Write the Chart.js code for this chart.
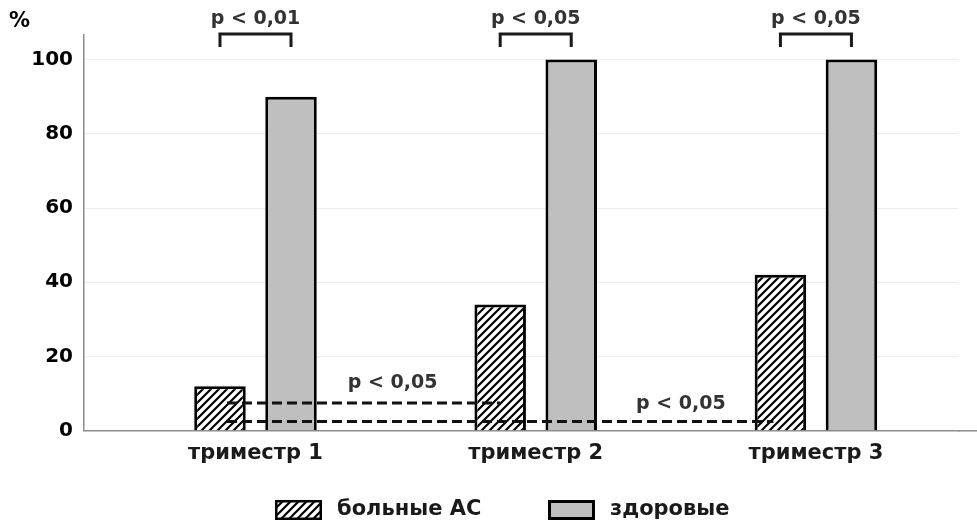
<!DOCTYPE html>
<html>
<head>
<meta charset="utf-8">
<script src="https://cdn.jsdelivr.net/npm/chart.js@4.4.1/dist/chart.umd.min.js"></script>
<style>
  html, body { margin: 0; padding: 0; background: #fff; }
  #wrap { width: 977px; height: 523px; }
</style>
</head>
<body>
<div id="wrap"><canvas id="chart"></canvas></div>
<script>
const categories = ["триместр 1", "триместр 2", "триместр 3"];
const seriesNames = ["больные АС", "здоровые"];
const sick = [12, 34, 42];
const healthy = [90, 100, 100];
const yTicks = [0, 20, 40, 60, 80, 100];
const pairLabels = ["p < 0,01", "p < 0,05", "p < 0,05"];
const trendLabels = ["p < 0,05", "p < 0,05"];
const trendLevels = [7.5, 2.5];
const trendTo = [1, 2];

const FONT = "'DejaVu Sans', Verdana, sans-serif";
const ctx = document.getElementById("chart").getContext("2d");

// hatch fill for the first series
function makeHatch(c) {
  const s = 8;
  const tile = document.createElement("canvas");
  tile.width = s;
  tile.height = s;
  const g = tile.getContext("2d");
  g.fillStyle = "#fff";
  g.fillRect(0, 0, s, s);
  g.strokeStyle = "#000";
  g.lineWidth = 2.2;
  g.beginPath();
  g.moveTo(-1, s + 1); g.lineTo(s + 1, -1);
  g.moveTo(-1, 1); g.lineTo(1, -1);
  g.moveTo(s - 1, s + 1); g.lineTo(s + 1, s - 1);
  g.stroke();
  return c.createPattern(tile, "repeat");
}
const hatch = makeHatch(ctx);
const grey = "#bfbfbf";

const annotations = {
  id: "annotations",
  afterDatasetsDraw(chart) {
    const { ctx, chartArea } = chart;
    const m0 = chart.getDatasetMeta(0).data;
    const m1 = chart.getDatasetMeta(1).data;
    const y = chart.scales.y;
    ctx.save();

    // brackets over each pair
    ctx.strokeStyle = "#1a1a1a";
    ctx.lineWidth = 3;
    ctx.fillStyle = "#333";
    ctx.font = "bold 19px " + FONT;
    ctx.textAlign = "center";
    ctx.textBaseline = "middle";
    pairLabels.forEach((txt, i) => {
      const x0 = m0[i].x, x1 = m1[i].x;
      const top = chartArea.top - 1;
      ctx.beginPath();
      ctx.moveTo(x0, top + 13);
      ctx.lineTo(x0, top);
      ctx.lineTo(x1, top);
      ctx.lineTo(x1, top + 13);
      ctx.stroke();
      ctx.fillText(txt, (x0 + x1) / 2, top - 15);
    });

    // dashed comparison lines
    ctx.setLineDash([10, 5]);
    ctx.strokeStyle = "#111";
    trendLabels.forEach((txt, i) => {
      const py = y.getPixelForValue(trendLevels[i]);
      const xs = m0[0].x + 7;
      const xe = m0[trendTo[i]].x - (i === 0 ? 0 : 7);
      ctx.beginPath();
      ctx.moveTo(xs, py);
      ctx.lineTo(xe, py);
      ctx.stroke();
      const gapMid = (m1[trendTo[i] - 1].x + m1[trendTo[i] - 1].width / 2 +
                      m0[trendTo[i]].x - m0[trendTo[i]].width / 2) / 2;
      ctx.fillText(txt, gapMid + (i === 0 ? -3 : 5), py - (i === 0 ? 20 : 17));
    });
    ctx.setLineDash([]);

    // % unit label
    ctx.fillStyle = "#000";
    ctx.textAlign = "left";
    ctx.font = "bold 21px " + FONT;
    ctx.fillText("%", 9, 22);

    // x axis runs to the edge
    ctx.strokeStyle = "#8c8c8c";
    ctx.lineWidth = 1.5;
    ctx.beginPath();
    ctx.moveTo(chartArea.right, chartArea.bottom);
    ctx.lineTo(chart.width, chartArea.bottom);
    ctx.stroke();

    // legend
    const boxes = [
      { x: 275, w: 47, fill: hatch, bw: 2.5 },
      { x: 548, w: 47, fill: grey, bw: 3 },
    ];
    ctx.font = "bold 21px " + FONT;
    ctx.textBaseline = "middle";
    seriesNames.forEach((name, i) => {
      const b = boxes[i];
      ctx.fillStyle = b.fill;
      ctx.fillRect(b.x, 500, b.w, 20);
      ctx.strokeStyle = "#000";
      ctx.lineWidth = b.bw;
      ctx.strokeRect(b.x + b.bw / 2, 500 + b.bw / 2, b.w - b.bw, 20 - b.bw);
      ctx.fillStyle = "#1a1a1a";
      ctx.fillText(name, b.x + b.w + 15, 510);
    });
    ctx.restore();
  },
};

new Chart(ctx, {
  type: "bar",
  data: {
    datasets: [
      {
        label: seriesNames[0],
        data: sick.map((v, i) => ({ x: i + 1, y: v })),
        backgroundColor: hatch,
        borderColor: "#000",
        borderWidth: 3,
      },
      {
        label: seriesNames[1],
        data: healthy.map((v, i) => ({ x: i + 1, y: v })),
        backgroundColor: grey,
        borderColor: "#000",
        borderWidth: 3,
      },
    ],
  },
  options: {
    responsive: true,
    maintainAspectRatio: false,
    animation: false,
    categoryPercentage: 0.507,
    barPercentage: 0.725,
    layout: { padding: { top: 35, right: 19, bottom: 47, left: 0 } },
    plugins: {
      legend: { display: false },
      tooltip: { enabled: false },
    },
    scales: {
      x: {
        type: "linear",
        offset: false,
        min: 0.388,
        max: 3.507,
        afterBuildTicks: (s) => { s.ticks = categories.map((c, i) => ({ value: i + 1 })); },
        ticks: {
          callback: (v) => categories[v - 1],
          color: "#1a1a1a",
          font: { family: FONT, size: 21, weight: "bold" },
          padding: 10,
          maxRotation: 0,
        },
        grid: { display: false, drawTicks: false, offset: false },
        border: { display: true, color: "#8c8c8c", width: 1.5 },
      },
      y: {
        min: 0,
        max: 106.6,
        afterBuildTicks: (s) => { s.ticks = yTicks.map((v) => ({ value: v })); },
        afterFit: (s) => { s.width = 84; },
        ticks: {
          color: "#000",
          font: { family: FONT, size: 20, weight: "bold" },
          padding: 11,
        },
        grid: { color: "#ececec", lineWidth: 1, drawTicks: false },
        border: { display: true, color: "#8c8c8c", width: 1.5 },
      },
    },
  },
  plugins: [annotations],
});
</script>
</body>
</html>
